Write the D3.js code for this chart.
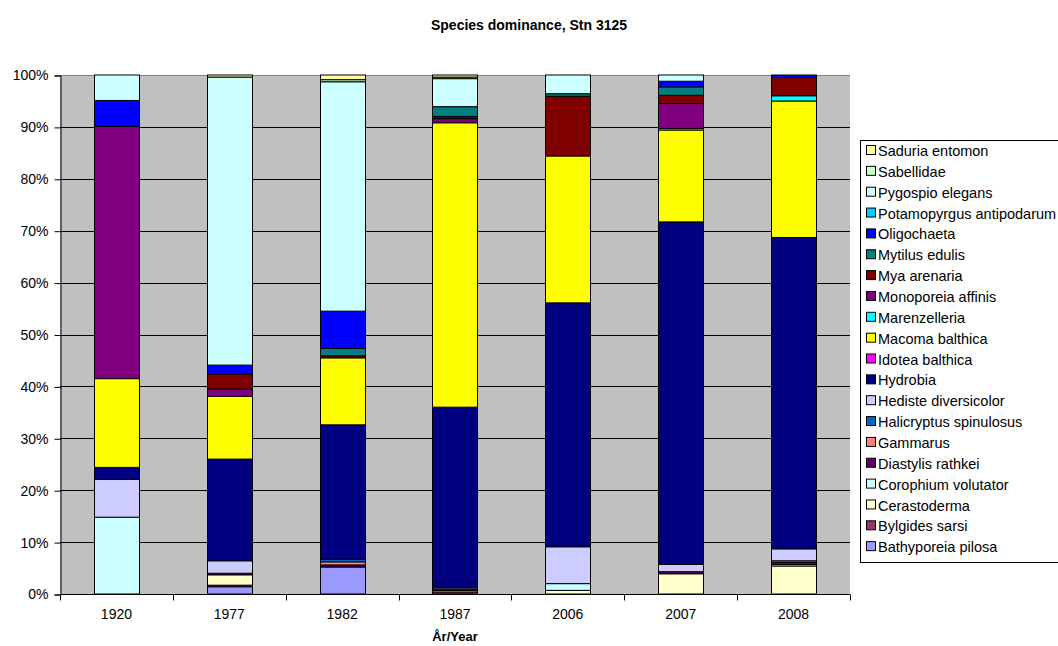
<!DOCTYPE html>
<html>
<head>
<meta charset="utf-8">
<script src="https://cdn.jsdelivr.net/npm/d3@7"></script>
<style>
  html, body { margin: 0; padding: 0; background: #fff; }
  svg { display: block; font-family: "Liberation Sans", Arial, sans-serif; }
</style>
</head>
<body>
<svg id="chart" width="1058" height="646"></svg>
<script>
// Sampling years (x categories)
const years = ["1920", "1977", "1982", "1987", "2006", "2007", "2008"];

// Species in stacking order, bottom to top
const species = [
  "Bathyporeia pilosa", "Bylgides sarsi", "Cerastoderma", "Corophium volutator",
  "Diastylis rathkei", "Gammarus", "Halicryptus spinulosus", "Hediste diversicolor",
  "Hydrobia", "Idotea balthica", "Macoma balthica", "Marenzelleria",
  "Monoporeia affinis", "Mya arenaria", "Mytilus edulis", "Oligochaeta",
  "Potamopyrgus antipodarum", "Pygospio elegans", "Sabellidae", "Saduria entomon"
];

const speciesColors = [
  "#9999FF", "#993366", "#FFFFCC", "#CCFFFF", "#660066", "#FF8080", "#0066CC", "#CCCCFF",
  "#000080", "#FF00FF", "#FFFF00", "#00FFFF", "#800080", "#800000", "#008080", "#0000FF",
  "#00CCFF", "#CCFFFF", "#CCFFCC", "#FFFF99"
];

// Share of individuals (%) per species, one value per year
const bathyporeia  = [0,    1.4,  5.2,  0,    0,    0,    0];
const bylgides     = [0,    0.3,  0,    0.4,  0,    0,    0];
const cerastoderma = [0,    2.0,  0,    0,    0.7,  3.9,  5.4];
const corophium    = [14.8, 0,    0,    0.3,  1.3,  0,    0.3];
const diastylis    = [0,    0.3,  0.4,  0.3,  0,    0.4,  0.4];
const gammarus     = [0,    0,    0.6,  0,    0,    0,    0.3];
const halicryptus  = [0,    0,    0.5,  0,    0,    0,    0];
const hediste      = [7.3,  2.4,  0,    0.3,  7.1,  1.4,  2.3];
const hydrobia     = [2.3,  19.6, 25.9, 34.7, 47.0, 66.0, 60.0];
const idotea       = [0,    0,    0,    0,    0,    0,    0];
const macoma       = [17.1, 12.1, 12.9, 54.8, 28.3, 17.7, 26.3];
const marenzelleria= [0,    0,    0,    0,    0,    0.3,  1.0];
const monoporeia   = [48.6, 1.4,  0,    0.8,  0,    4.8,  0];
const mya          = [0,    2.9,  0.4,  0.4,  11.5, 1.6,  3.5];
const mytilus      = [0,    0,    1.4,  1.9,  0.5,  1.6,  0];
const oligochaeta  = [5.0,  1.7,  7.2,  0,    0,    1.1,  0.5];
const potamopyrgus = [0,    0,    0,    0,    0,    0,    0];
const pygospio     = [4.9,  55.5, 44.2, 5.4,  3.6,  1.2,  0];
const sabellidae   = [0,    0,    0.4,  0.3,  0,    0,    0];
const saduria      = [0,    0.4,  0.9,  0.4,  0,    0,    0];

const seriesValues = [
  bathyporeia, bylgides, cerastoderma, corophium, diastylis, gammarus, halicryptus,
  hediste, hydrobia, idotea, macoma, marenzelleria, monoporeia, mya, mytilus,
  oligochaeta, potamopyrgus, pygospio, sabellidae, saduria
];

const yTicks = [0, 10, 20, 30, 40, 50, 60, 70, 80, 90, 100];

// Rows for d3.stack, normalised to 100 % per year
const rows = years.map((yr, i) => {
  const row = { year: yr };
  let total = 0;
  species.forEach((s, k) => { total += seriesValues[k][i]; });
  species.forEach((s, k) => { row[s] = seriesValues[k][i] / total * 100; });
  return row;
});

const svg = d3.select("#chart");
const plot = { left: 60, right: 850, top: 75, bottom: 594 };

const x = d3.scaleBand()
  .domain(years)
  .range([plot.left, plot.right])
  .paddingInner(0.6)
  .paddingOuter(0.3);

const y = d3.scaleLinear().domain([0, 100]).range([plot.bottom, plot.top]);

// Title
svg.append("text")
  .attr("x", 529).attr("y", 30)
  .attr("text-anchor", "middle")
  .style("font-size", "14px").style("font-weight", "bold")
  .text("Species dominance, Stn 3125");

// Plot background
svg.append("rect")
  .attr("x", plot.left).attr("y", plot.top)
  .attr("width", plot.right - plot.left).attr("height", plot.bottom - plot.top)
  .attr("fill", "#C0C0C0");

// Horizontal gridlines
svg.append("g").selectAll("line").data(yTicks.slice(1)).join("line")
  .attr("x1", plot.left).attr("x2", plot.right)
  .attr("y1", d => Math.round(y(d)) + 0.5).attr("y2", d => Math.round(y(d)) + 0.5)
  .attr("stroke", d => d === 100 ? "#808080" : "#000")
  .attr("stroke-width", 1);

// Stacked bars
const stack = d3.stack().keys(species);
const layers = stack(rows);

svg.append("g").selectAll("g").data(layers).join("g")
  .attr("fill", (d, i) => speciesColors[i])
  .selectAll("rect")
  .data(d => d.filter(p => p[1] - p[0] > 0))
  .join("rect")
  .attr("x", d => Math.round(x(d.data.year)) + 0.5)
  .attr("width", Math.round(x.bandwidth()))
  .attr("y", d => y(d[1]))
  .attr("height", d => y(d[0]) - y(d[1]))
  .attr("stroke", "#000")
  .attr("stroke-width", 1);

// Y axis
const yAxis = d3.axisLeft(y)
  .tickValues(yTicks)
  .tickFormat(d => d + "%")
  .tickSize(6)
  .tickPadding(6);

const gy = svg.append("g")
  .attr("transform", `translate(${plot.left + 0.5},0.5)`)
  .call(yAxis);
gy.select(".domain").attr("stroke", "#000");
gy.selectAll(".tick line").attr("stroke", "#000");
gy.selectAll(".tick text")
  .style("font-size", "14px")
  .style("font-family", "Liberation Sans, Arial, sans-serif")
  .attr("fill", "#000");

// X axis: labels centred on bars, tick marks on category boundaries
const gx = svg.append("g").attr("transform", `translate(0,${plot.bottom + 0.5})`);
gx.append("line")
  .attr("x1", plot.left).attr("x2", plot.right)
  .attr("stroke", "#000");
const step = x.step();
const boundaries = d3.range(years.length + 1).map(i => plot.left + i * step);
gx.selectAll("line.tick").data(boundaries).join("line")
  .attr("class", "tick")
  .attr("x1", d => Math.round(d) + 0.5).attr("x2", d => Math.round(d) + 0.5)
  .attr("y1", 0).attr("y2", 6)
  .attr("stroke", "#000");
gx.selectAll("text").data(years).join("text")
  .attr("x", d => x(d) + x.bandwidth() / 2)
  .attr("y", 24)
  .attr("text-anchor", "middle")
  .style("font-size", "14px")
  .text(d => d);

// X axis title
svg.append("text")
  .attr("x", (plot.left + plot.right) / 2).attr("y", 641)
  .attr("text-anchor", "middle")
  .style("font-size", "13px").style("font-weight", "bold")
  .text("År/Year");

// Legend, top entry = last stacked series
const legendItems = species.map((s, i) => ({ name: s, color: speciesColors[i] })).reverse();
const lg = { x: 860, y: 140, row: 20.85 };
svg.append("rect")
  .attr("x", lg.x + 0.5).attr("y", lg.y + 0.5)
  .attr("width", 260).attr("height", 422)
  .attr("fill", "#fff").attr("stroke", "#000");
const li = svg.append("g").selectAll("g").data(legendItems).join("g")
  .attr("transform", (d, i) => `translate(${lg.x + 6},${lg.y + 11 + i * lg.row})`);
li.append("rect")
  .attr("x", 0.5).attr("y", -5.5)
  .attr("width", 9).attr("height", 9)
  .attr("fill", d => d.color).attr("stroke", "#000");
li.append("text")
  .attr("x", 12).attr("y", 0)
  .attr("dy", "0.35em")
  .style("font-size", "14.5px")
  .text(d => d.name);
</script>
</body>
</html>
